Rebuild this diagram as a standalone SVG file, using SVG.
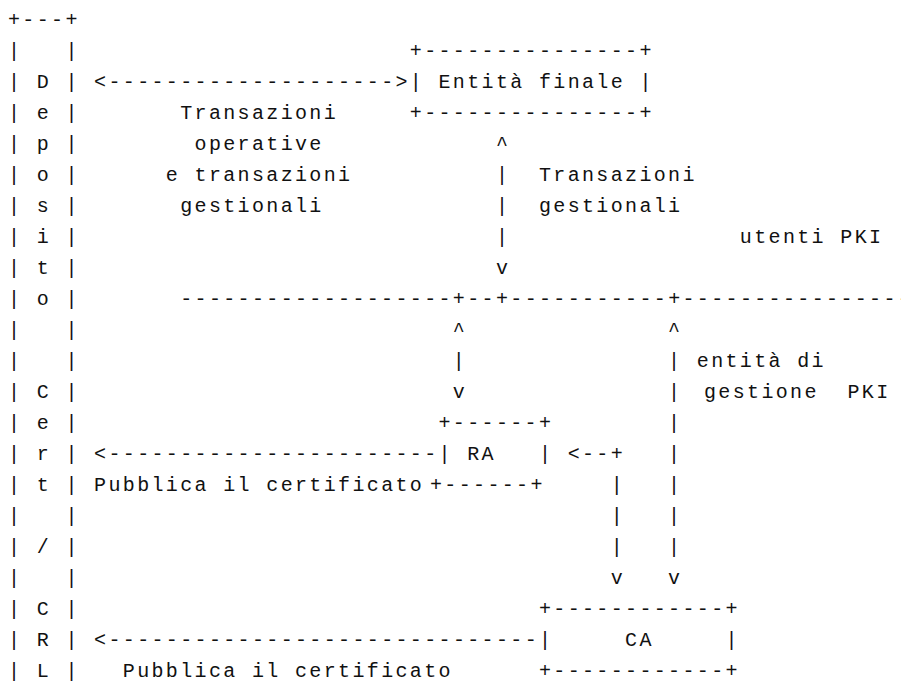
<svg xmlns="http://www.w3.org/2000/svg" width="901" height="682" viewBox="0 0 901 682" xml:space="preserve">
<style>
text { font-family: "Liberation Mono", "DejaVu Sans Mono", monospace; font-size: 20px; letter-spacing: 2.35px; fill: #111; white-space: pre; }
</style>
<rect width="901" height="682" fill="#ffffff"/>
<g id="deposito">
<text x="8" y="26">+---+</text>
<text x="8" y="57">|   |</text>
<text x="8" y="88">| D |</text>
<text x="8" y="119">| e |</text>
<text x="8" y="150">| p |</text>
<text x="8" y="181">| o |</text>
<text x="8" y="212">| s |</text>
<text x="8" y="243">| i |</text>
<text x="8" y="274">| t |</text>
<text x="8" y="305">| o |</text>
<text x="8" y="336">|   |</text>
<text x="8" y="367">|   |</text>
<text x="8" y="398">| C |</text>
<text x="8" y="429">| e |</text>
<text x="8" y="460">| r |</text>
<text x="8" y="491">| t |</text>
<text x="8" y="522">|   |</text>
<text x="8" y="553">| / |</text>
<text x="8" y="584">|   |</text>
<text x="8" y="615">| C |</text>
<text x="8" y="646">| R |</text>
<text x="8" y="677">| L |</text>
</g>
<g id="entita-finale">
<text x="409.8" y="57">+---------------+</text>
<text x="409.8" y="88">| Entità finale |</text>
<text x="409.8" y="119">+---------------+</text>
</g>
<g id="ra">
<text x="438.5" y="429">+------+</text>
<text x="438.5" y="460">| RA   |</text>
<text x="430" y="491">+------+</text>
</g>
<g id="ca">
<text x="538.95" y="615">+------------+</text>
<text x="538.95" y="646">|     CA     |</text>
<text x="538.95" y="677">+------------+</text>
</g>
<g id="connectors">
<text x="94.1" y="88">&lt;--------------------&gt;</text>
<text x="495.9" y="150">^</text>
<text x="495.9" y="181">|</text>
<text x="495.9" y="212">|</text>
<text x="495.9" y="243">|</text>
<text x="495.9" y="274">v</text>
<text x="180.2" y="305">-------------------+--+-----------+----------------</text>
<text x="452.85" y="336">^</text>
<text x="668.1" y="336">^</text>
<text x="452.85" y="367">|</text>
<text x="668.1" y="367">|</text>
<text x="452.85" y="398">v</text>
<text x="668.1" y="398">|</text>
<text x="668.1" y="429">|</text>
<text x="94.1" y="460">&lt;-----------------------</text>
<text x="567.65" y="460">&lt;--+</text>
<text x="668.1" y="460">|</text>
<text x="610.7" y="491">|</text>
<text x="668.1" y="491">|</text>
<text x="610.7" y="522">|</text>
<text x="668.1" y="522">|</text>
<text x="610.7" y="553">|</text>
<text x="668.1" y="553">|</text>
<text x="610.7" y="584">v</text>
<text x="668.1" y="584">v</text>
<text x="94.1" y="646">&lt;------------------------------</text>
</g>
<g id="labels">
<text x="180.2" y="119">Transazioni</text>
<text x="194.55" y="150">operative</text>
<text x="165.85" y="181">e transazioni</text>
<text x="538.95" y="181">Transazioni</text>
<text x="180.2" y="212">gestionali</text>
<text x="538.95" y="212">gestionali</text>
<text x="739.85" y="243">utenti PKI</text>
<text x="696.8" y="367">entità di</text>
<text x="704" y="398">gestione  PKI</text>
<text x="94.1" y="491">Pubblica il certificato</text>
<text x="122.8" y="677">Pubblica il certificato</text>
</g>
</svg>
